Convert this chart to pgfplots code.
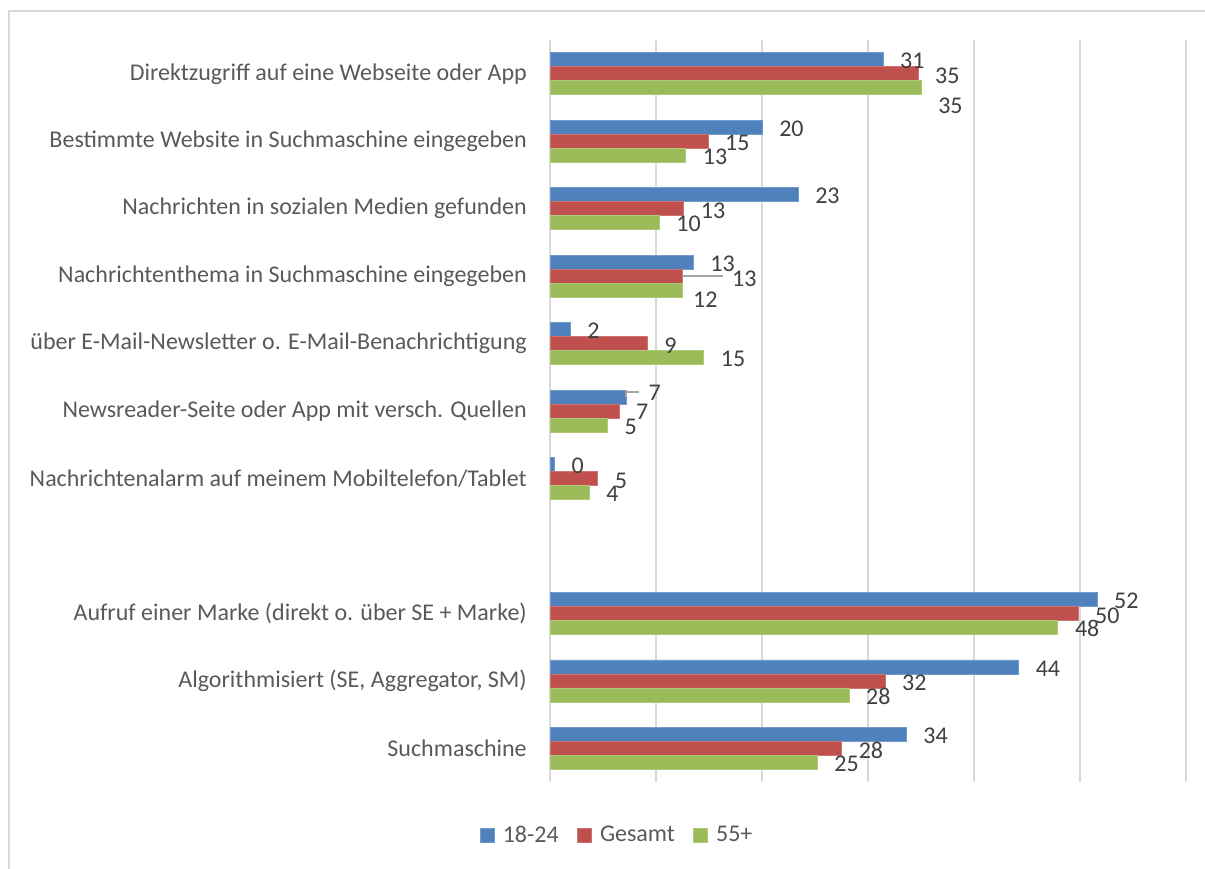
\documentclass[border=0pt]{standalone}
\usepackage{fontspec}
\setmainfont{Carlito}
\usepackage{pgfplots}
\usepackage{pgfplotstable}
\pgfplotsset{compat=1.18}

\definecolor{cblue}{HTML}{4F81BD}
\definecolor{cred}{HTML}{C0504D}
\definecolor{cgreen}{HTML}{9BBB59}
\definecolor{labgray}{HTML}{595959}
\definecolor{numgray}{HTML}{404040}
\definecolor{gridgray}{HTML}{D9D9D9}

% y = Kategorie, val = Balkenlaenge, lab = Beschriftung, dx/dy = Versatz der Beschriftung (px)
\pgfplotstableread{
y val lab dx dy
0 31.4 31 0 -1.5
1 20.0 20 0 -1.5
2 23.4 23 0 -1.5
3 13.5 13 0 -1.5
4 1.9 2 0 -1.5
5 7.2 7 5 4.5
6 0.4 0 0 -1.5
8 51.6 52 0 -1.5
9 44.2 44 0 -1.5
10 33.6 34 0 -1.5
}\junge

\pgfplotstableread{
y val lab dx dy
0 34.7 35 0 -2.5
1 14.9 15 0 -2
2 12.6 13 0 -2
3 12.45 13 33 -2.5
4 9.15 9 0 -2
5 6.5 7 0 -1
6 4.5 5 0 -2
8 49.8 50 0 -2
9 31.6 32 0 -2
10 27.5 28 0 -2
}\gesamt

\pgfplotstableread{
y val lab dx dy
0 35.0 35 0 -18
1 12.8 13 0 -2
2 10.3 10 0 -1.5
3 12.45 12 -6 -10
4 14.5 15 0 -1.5
5 5.4 5 0 -1.5
6 3.7 4 0 -1.5
8 47.9 48 0 -1.5
9 28.2 28 0 -1.5
10 25.2 25 0 -1.5
}\alt

\begin{document}
\begin{tikzpicture}
\useasboundingbox (0,0) rectangle (903.75pt,651pt);
\draw[gridgray, line width=1.5pt] (6.75pt,-5pt) -- (6.75pt,642.75pt) -- (910pt,642.75pt);
\begin{axis}[
  at={(412.5pt,64.5pt)}, anchor=south west,
  scale only axis,
  width=477pt, height=556.5pt,
  xbar, bar width=10.5pt,
  xmin=0, xmax=60,
  ymin=-0.5, ymax=10.5,
  y dir=reverse,
  axis line style={draw=none},
  xtick={0,10,...,60}, xticklabels={},
  xmajorgrids, grid style={gridgray, line width=1.5pt},
  ytick={0,1,2,3,4,5,6,8,9,10},
  yticklabels={
    Direktzugriff auf eine Webseite oder App,
    Bestimmte Website in Suchmaschine eingegeben,
    Nachrichten in sozialen Medien gefunden,
    Nachrichtenthema in Suchmaschine eingegeben,
    über E-Mail-Newsletter o. E-Mail-Benachrichtigung,
    Newsreader-Seite oder App mit versch. Quellen,
    Nachrichtenalarm auf meinem Mobiltelefon/Tablet,
    Aufruf einer Marke (direkt o. über SE + Marke),
    {Algorithmisiert (SE, Aggregator, SM)},
    Suchmaschine},
  major tick length=0pt,
  yticklabel style={font=\fontsize{18}{21}\selectfont, text=labgray, inner xsep=0pt, xshift=-17.25pt},
  point meta=explicit symbolic,
  nodes near coords,
  visualization depends on={\thisrow{dx} \as \dx},
  visualization depends on={\thisrow{dy} \as \dy},
  nodes near coords style={font=\fontsize{18}{21}\selectfont, text=numgray,
    anchor=west, inner sep=0pt, xshift=12.75pt, xshift=\dx*0.75pt, yshift=\dy*0.75pt},
  legend columns=3,
  legend style={draw=none, at={(axis description cs:0.1038,-0.0714)}, anchor=center,
    font=\fontsize{18}{21}\selectfont, text=labgray,
    nodes={inner sep=0pt},
    /tikz/every odd column/.append style={column sep=6.5pt},
    /tikz/every even column/.append style={column sep=13.5pt}},
  legend image code/.code={\fill[#1] (0pt,-5.25pt) rectangle (10.5pt,5.25pt);},
]
\addplot[fill=cblue, draw=cblue!80!white, bar shift=10.5pt] table[x=val, y=y, meta=lab] {\junge};
\addlegendentry{18-24}
\addplot[fill=cred, draw=cred!80!white, bar shift=0pt] table[x=val, y=y, meta=lab] {\gesamt};
\addlegendentry{Gesamt}
\addplot[fill=cgreen, draw=cgreen!80!white, bar shift=-10.5pt] table[x=val, y=y, meta=lab] {\alt};
\addlegendentry{55+}
% Hinweislinien der verschobenen Beschriftungen
\draw[gray!70, line width=1.5pt] (axis cs:12.45,3) -- ++(30.75pt,0pt);
\draw[gray!70, line width=1.5pt] ([yshift=10.5pt]axis cs:7.2,5) -- ++(0pt,3.75pt) -- ++(9.75pt,0pt);
\end{axis}
\end{tikzpicture}
\end{document}
